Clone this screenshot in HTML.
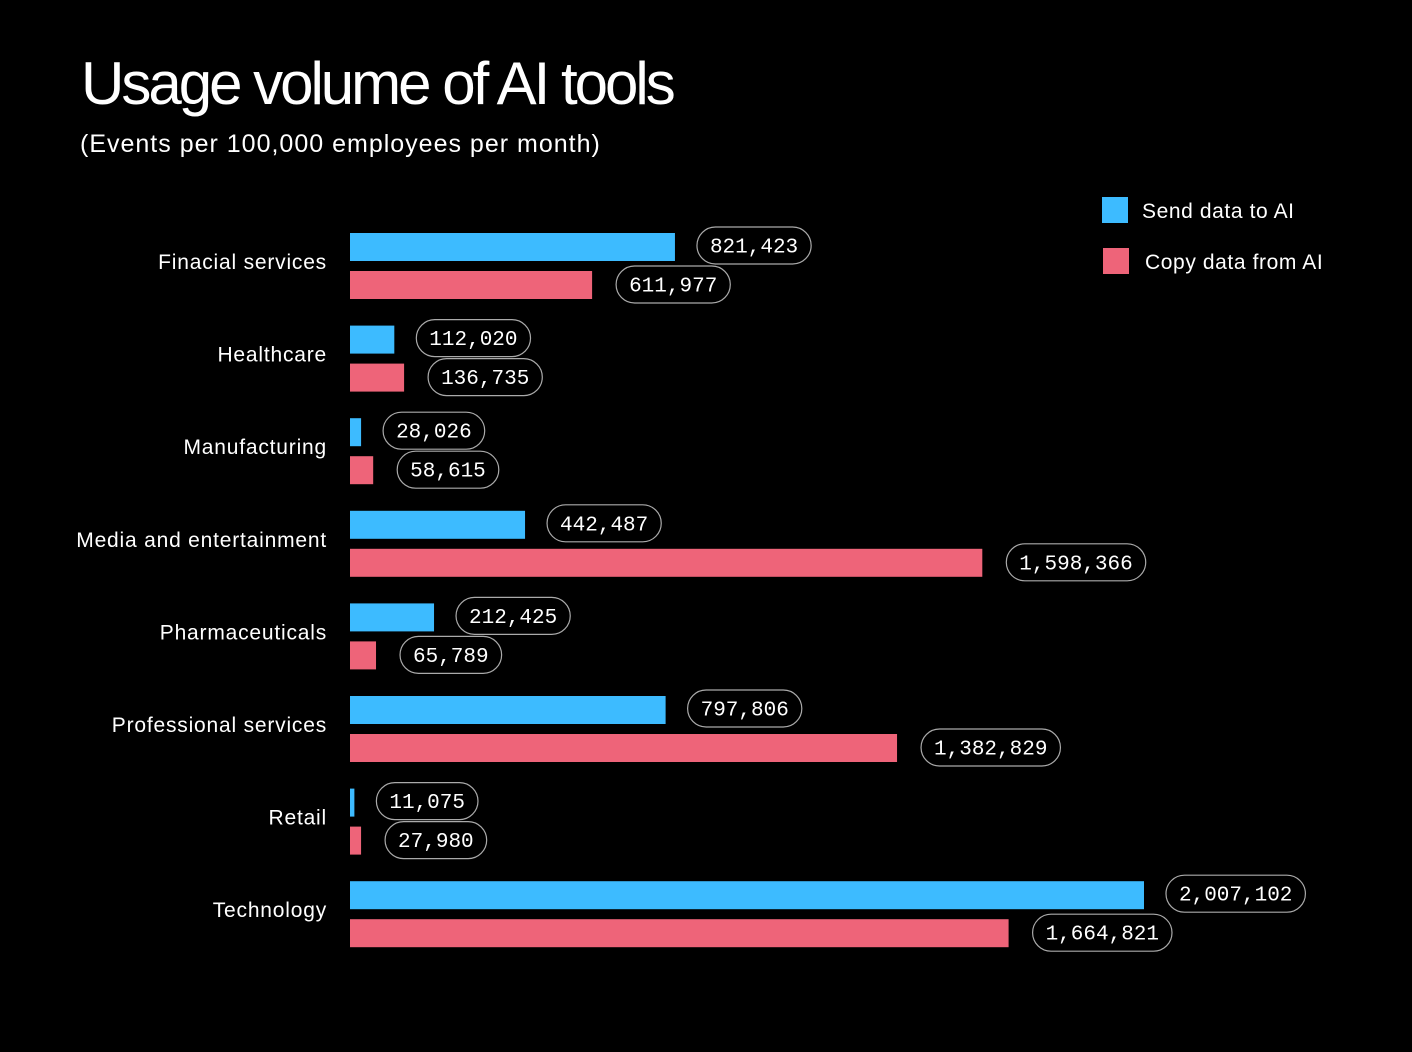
<!DOCTYPE html>
<html><head><meta charset="utf-8"><style>
html,body{margin:0;padding:0;background:#000;}
svg{display:block;}
</style></head><body>
<svg id="chart" width="1412" height="1052" viewBox="0 0 1412 1052" xmlns="http://www.w3.org/2000/svg">
<rect width="1412" height="1052" fill="#000"/>
<text x="81" y="104" fill="#fff" font-family="Liberation Sans, sans-serif" font-size="60" letter-spacing="-3">Usage volume of AI tools</text>
<text x="80" y="152" fill="#fff" font-family="Liberation Sans, sans-serif" font-size="25" letter-spacing="1">(Events per 100,000 employees per month)</text>
<g>
<rect x="1102" y="197" width="26" height="26" fill="#3dbbff"/>
<text x="1142" y="218" fill="#fff" font-family="Liberation Sans, sans-serif" font-size="21" letter-spacing="0.6">Send data to AI</text>
<rect x="1103" y="248" width="26" height="26" fill="#ee6479"/>
<text x="1145" y="269" fill="#fff" font-family="Liberation Sans, sans-serif" font-size="21" letter-spacing="0.6">Copy data from AI</text>
</g>
<g id="plot"></g>
</svg>
<script>
const categories = ["Finacial services","Healthcare","Manufacturing","Media and entertainment","Pharmaceuticals","Professional services","Retail","Technology"];
const sendValues = [821423,112020,28026,442487,212425,797806,11075,2007102];
const copyValues = [611977,136735,58615,1598366,65789,1382829,27980,1664821];

const NS = "http://www.w3.org/2000/svg";
const x0 = 350, scale = 794 / 2007102;
const xPos = v => x0 + v * scale;
const yGroup = i => 233 + i * 92.6;
const plot = document.getElementById('plot');
function mk(tag, attrs){const e=document.createElementNS(NS,tag);for(const k in attrs)e.setAttribute(k,attrs[k]);plot.appendChild(e);return e;}
const fmt = v => v.toLocaleString('en-US');
function pill(xl, cy, v, kind){
  const txt = fmt(v);
  const w = txt.length * 12.6 + 26;
  const r = mk('rect',{x:xl,y:cy-18.5,width:w,height:37,rx:18.5,fill:'none',stroke:'#aaa','stroke-width':1.2});
  
  
  const t = mk('text',{x:xl+w/2,y:cy+7,fill:'#fff','font-family':'Liberation Mono, monospace','font-size':21,'text-anchor':'middle'});
  t.textContent = txt;
  
  
}
categories.forEach((c,i)=>{
  const y = yGroup(i);
  const lab = mk('text',{x:327,y:y+36,fill:'#fff','font-family':'Liberation Sans, sans-serif','font-size':21,'text-anchor':'end','letter-spacing':0.8});
  lab.textContent = c;
  
  
  const b1 = mk('rect',{x:x0,y:y,width:Math.max(0,xPos(sendValues[i])-x0),height:28,fill:'#3dbbff'});
  
  
  const b2 = mk('rect',{x:x0,y:y+38,width:Math.max(0,xPos(copyValues[i])-x0),height:28,fill:'#ee6479'});
  
  
  pill(xPos(sendValues[i])+22, y+12.5, sendValues[i], 'send');
  pill(xPos(copyValues[i])+24, y+51.5, copyValues[i], 'copy');
});
</script>
</body></html>
